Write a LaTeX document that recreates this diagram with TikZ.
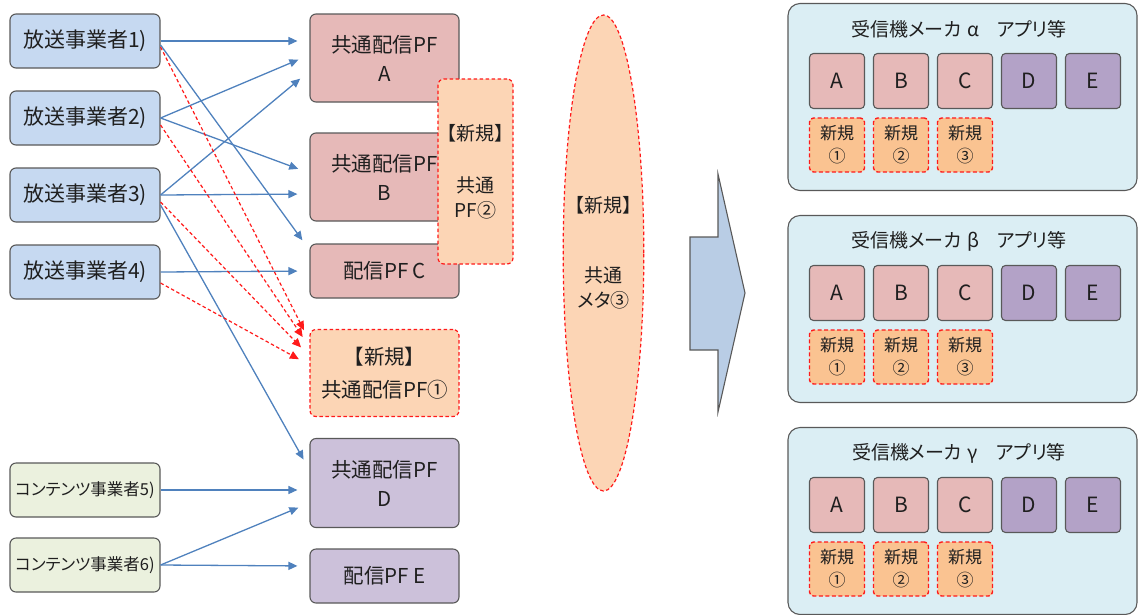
\documentclass[tikz,border=0pt]{standalone}
\usepackage{fontspec}
\setmainfont{Noto Sans CJK JP}[RawFeature=+palt]
\usetikzlibrary{arrows.meta,positioning,shapes.geometric}

\definecolor{edgegray}{HTML}{595959}
\definecolor{inkgray}{HTML}{1F1F1F}
\definecolor{sendblue}{HTML}{C6D9F1}
\definecolor{contgreen}{HTML}{EBF1DE}
\definecolor{pfpink}{HTML}{E6B9B8}
\definecolor{pfpurple}{HTML}{CCC1DA}
\definecolor{apppurple}{HTML}{B3A2C7}
\definecolor{neworange}{HTML}{FCD5B5}
\definecolor{appnewfill}{HTML}{FAC391}
\definecolor{newred}{HTML}{FF1A1A}
\definecolor{lineblue}{HTML}{4F81BD}
\definecolor{makercyan}{HTML}{DBEEF4}
\definecolor{bigblue}{HTML}{B9CDE5}

\begin{document}
\begin{tikzpicture}[x=1pt,y=-1pt,on grid,node distance=77pt]
  \tikzstyle{every node}=[text=inkgray]
  \tikzstyle{sender}=[draw=edgegray,fill=sendblue,line width=1.1pt,rounded corners=6pt,
    minimum width=150pt,minimum height=54pt,font=\fontsize{21}{25}\selectfont]
  \tikzstyle{content}=[sender,fill=contgreen,font=\fontsize{16.5}{20}\selectfont]
  \tikzstyle{pf}=[draw=edgegray,fill=pfpink,line width=1.1pt,rounded corners=6pt,
    minimum width=149pt,minimum height=88pt,align=center,font=\fontsize{20.5}{29}\selectfont]
  \tikzstyle{pfv}=[pf,fill=pfpurple]
  \tikzstyle{newpf}=[pf,draw=newred,fill=neworange,line width=1.2pt,dash pattern=on 3.5pt off 2.5pt]
  \tikzstyle{newmeta}=[ellipse,draw=newred,fill=neworange,line width=1.2pt,
    dash pattern=on 3.5pt off 2.5pt,minimum width=67pt,minimum height=476pt,inner sep=0pt,
    align=center,font=\fontsize{19}{25}\selectfont]
  \tikzstyle{maker}=[draw=edgegray,fill=makercyan,line width=1.1pt,rounded corners=12pt,
    minimum width=349pt,minimum height=187pt]
  \tikzstyle{appc}=[draw=edgegray,fill=pfpink,line width=1.1pt,rounded corners=4pt,
    minimum width=55pt,minimum height=55pt,font=\fontsize{21}{25}\selectfont]
  \tikzstyle{appd}=[appc,fill=apppurple]
  \tikzstyle{appnew}=[appc,draw=newred,fill=appnewfill,line width=1.4pt,
    dash pattern=on 4pt off 2.5pt,minimum height=54pt,align=center,
    font=\fontsize{17}{23}\selectfont]
  \tikzstyle{feed}=[draw=lineblue,line width=1.3pt,-{Triangle[length=9pt,width=8pt]},shorten >=12pt]
  \tikzstyle{newfeed}=[draw=newred,line width=1.2pt,dash pattern=on 3.5pt off 2.5pt,
    -{Triangle[length=9pt,width=8pt]},shorten >=12pt]
  \tikzstyle{bigarrow}=[draw=edgegray,fill=bigblue,line width=1.1pt]

  \useasboundingbox (0,0) rectangle (1139,614);

  % senders
  \node[sender] (b1) at (85,41) {放送事業者1)};
  \node[sender,below=of b1] (b2) {放送事業者2)};
  \node[sender,below=of b2] (b3) {放送事業者3)};
  \node[sender,below=of b3] (b4) {放送事業者4)};
  \node[content] (c5) at (85,490) {コンテンツ事業者5)};
  \node[content,below=75pt of c5] (c6) {コンテンツ事業者6)};

  % platforms
  \node[pf] (pfA) at (384.5,58) {共通配信PF\\A};
  \node[pf,below=119pt of pfA] (pfB) {共通配信PF\\B};
  \node[pf,minimum height=54pt,below=94pt of pfB] (pfC) {配信PF C};
  \node[newpf,minimum height=87pt,below=102pt of pfC] (new1) {【新規】\\[4pt]共通配信PF①};
  \node[pfv,minimum height=89pt,below=110pt of new1] (pfD) {共通配信PF\\D};
  \node[pfv,minimum height=54pt,below=93pt of pfD] (pfE) {配信PF E};
  \node[newpf,minimum width=75pt,minimum height=185pt,font=\fontsize{19}{25}\selectfont]
    (new2) at (475.5,171.5) {【新規】\\[27pt]共通\\PF②};

  \node[newmeta] (meta) at (603.5,253) {【新規】\\[45pt]共通\\メタ③};

  \draw[bigarrow] (690,237) -- (718,237) -- (718,174) -- (745,293) -- (718,412)
    -- (718,350) -- (690,350) -- cycle;

  % receiver makers
  \foreach \m/\yt/\gk in {a/3/α,b/215/β,c/427/γ}{
    \node[maker] (mk\m) at (962.5,\yt+94) {};
    \node[font=\fontsize{19}{22}\selectfont] (ttl\m) at (959,\yt+26)
      {受信機メーカ\hspace{6pt}\gk\hspace{18pt}アプリ等};
    \foreach \s/\st [count=\i from 0] in {A/appc,B/appc,C/appc,D/appd,E/appd}
      \node[\st] (app\m\s) at (837+64*\i,\yt+78) {\s};
    \foreach \k/\cn [count=\i from 0] in {1/①,2/②,3/③}
      \node[appnew] (nw\m\k) at (837+64*\i,\yt+142) {新規\\\cn};
  }

  % links
  \draw[feed] (b1.east) -- ([yshift=17pt]pfA.west);
  \draw[feed] ([yshift=-4pt]b1.east) -- ([yshift=21pt]pfC.west);
  \draw[feed] (b2.east) -- ([yshift=3pt]pfA.west);
  \draw[feed] (b2.east) -- ([yshift=4pt]pfB.west);
  \draw[feed] (b3.east) -- ([yshift=-13pt]pfA.west);
  \draw[feed] (b3.east) -- ([yshift=-17pt]pfB.west);
  \draw[feed] ([yshift=-10pt]b3.east) -- ([yshift=13pt]pfD.west);
  \draw[feed] (b4.east) -- (pfC.west);
  \draw[feed] (c5.east) -- ([yshift=-7pt]pfD.west);
  \draw[feed] (c6.east) -- ([yshift=-20pt]pfD.west);
  \draw[feed] (c6.east) -- ([yshift=10pt]pfE.west);

  \draw[newfeed] ([yshift=-6pt]b1.east) -- ([yshift=32pt]new1.west);
  \draw[newfeed] ([yshift=-7pt]b2.east) -- ([yshift=26pt]new1.west);
  \draw[newfeed] ([yshift=-7pt]b3.east) -- ([yshift=17pt]new1.west);
  \draw[newfeed] ([yshift=-11pt]b4.east) -- ([yshift=8pt]new1.west);
\end{tikzpicture}
\end{document}
